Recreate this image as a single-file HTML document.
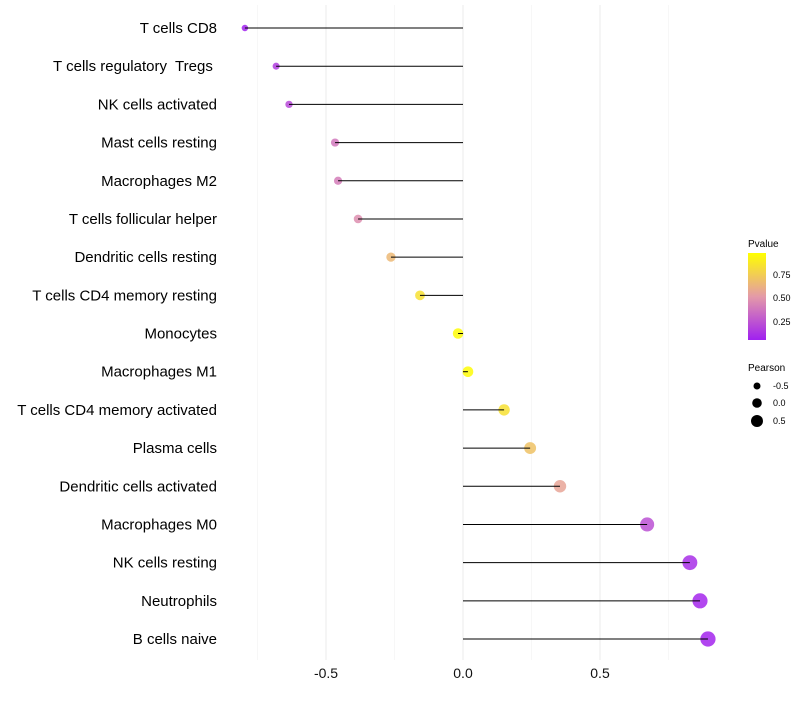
<!DOCTYPE html>
<html><head><meta charset="utf-8"><style>
body{margin:0;background:#fff;font-family:"Liberation Sans",sans-serif;}
text{white-space:pre;}
</style></head><body>
<svg id="chart" width="800" height="700" xmlns="http://www.w3.org/2000/svg">
<defs><linearGradient id="pg" x1="0" y1="1" x2="0" y2="0">
<stop offset="0" stop-color="#A020F0"/><stop offset="0.5" stop-color="#E49AA8"/><stop offset="1" stop-color="#FFFF00"/></linearGradient></defs>
<g id="grid"></g><g id="dots"></g><g id="marks"></g><g id="labels"></g>
<g font-size="9" fill="#000">
<text x="748" y="247" font-size="10">Pvalue</text>
<rect x="748" y="253" width="18" height="87" fill="url(#pg)"/>
<text x="773" y="278">0.75</text>
<text x="773" y="301">0.50</text>
<text x="773" y="325">0.25</text>
<text x="748" y="371" font-size="10">Pearson</text>
<circle cx="757" cy="386" r="3.5"/>
<circle cx="757" cy="403" r="4.8"/>
<circle cx="757" cy="421" r="6"/>
<text x="773" y="389">-0.5</text>
<text x="773" y="406">0.0</text>
<text x="773" y="424">0.5</text>
</g>
</svg>
<script>
const cells=["T cells CD8","T cells regulatory  Tregs ","NK cells activated","Mast cells resting","Macrophages M2","T cells follicular helper","Dendritic cells resting","T cells CD4 memory resting","Monocytes","Macrophages M1","T cells CD4 memory activated","Plasma cells","Dendritic cells activated","Macrophages M0","NK cells resting","Neutrophils","B cells naive"];
const pearson=[-0.796,-0.682,-0.635,-0.467,-0.456,-0.383,-0.263,-0.157,-0.018,0.018,0.15,0.245,0.354,0.672,0.828,0.865,0.894];
const pvalue=[0.01,0.12,0.17,0.36,0.38,0.45,0.65,0.85,0.98,0.98,0.85,0.7,0.55,0.2,0.06,0.03,0.02];
const xTicks=[-0.5,0,0.5];
const xTickLabels=["-0.5","0.0","0.5"];
const minorTicks=[-0.75,-0.25,0.25,0.75];
const NS="http://www.w3.org/2000/svg";
const x=v=>463+274*v, y=i=>28+i*38.19;
const rad=v=>5.3+2.6*v;
function col(p){
 const a=[160,32,240],m=[228,154,168],b=[255,255,0];let t,c0,c1;
 if(p<0.5){t=p/0.5;c0=a;c1=m}else{t=(p-0.5)/0.5;c0=m;c1=b}
 return "rgb("+c0.map((c,k)=>Math.round(c+(c1[k]-c)*t)).join(",")+")";}
function mk(tag,at,par){const e=document.createElementNS(NS,tag);for(const k in at)e.setAttribute(k,at[k]);document.getElementById(par).appendChild(e);return e;}
minorTicks.forEach(v=>{const l=mk("line",{x1:x(v),x2:x(v),y1:5,y2:660,stroke:"#f2f2f2","stroke-width":0.6},"grid");

});
xTicks.forEach((v,i)=>{const l=mk("line",{x1:x(v),x2:x(v),y1:5,y2:660,stroke:"#ebebeb","stroke-width":1},"grid");


const t=mk("text",{x:x(v),y:678,"text-anchor":"middle","font-size":"14",fill:"#111"},"labels");t.textContent=xTickLabels[i];

});
cells.forEach((c,i)=>{
 const t=mk("text",{x:217,y:y(i)+5,"text-anchor":"end","font-size":"15",fill:"#000"},"labels");t.textContent=c;
 
 
 const d=mk("circle",{cx:x(pearson[i]),cy:y(i),r:rad(pearson[i]),fill:col(pvalue[i]),"fill-opacity":0.85},"dots");
 
 
 const l=mk("line",{x1:x(0),x2:x(pearson[i]),y1:y(i),y2:y(i),stroke:"#000","stroke-width":1},"marks");
 
 
});
</script>
</body></html>
